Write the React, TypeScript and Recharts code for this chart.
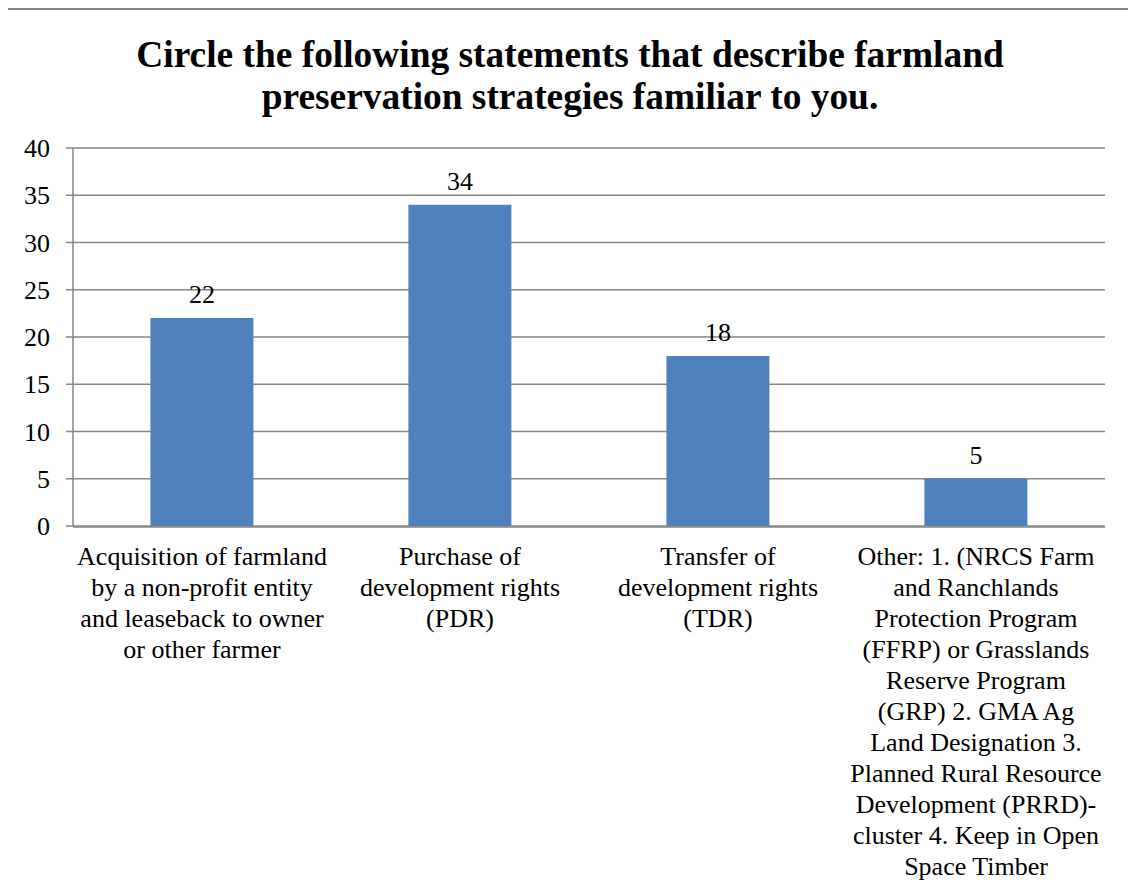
import React from "react";
import { BarChart, Bar, XAxis, YAxis, CartesianGrid, LabelList } from "recharts";

const titleLines = [
  "Circle the following statements that describe farmland",
  "preservation strategies familiar to you.",
];

const categories = [
  "Acquisition of farmland\nby a non-profit entity\nand leaseback to owner\nor other farmer",
  "Purchase of\ndevelopment rights\n(PDR)",
  "Transfer of\ndevelopment rights\n(TDR)",
  "Other: 1. (NRCS Farm\nand Ranchlands\nProtection Program\n(FFRP) or Grasslands\nReserve Program\n(GRP) 2. GMA Ag\nLand Designation 3.\nPlanned Rural Resource\nDevelopment (PRRD)-\ncluster 4. Keep in Open\nSpace Timber",
];

const counts = [22, 34, 18, 5];

const yTicks = [0, 5, 10, 15, 20, 25, 30, 35, 40];
const boundaryTicks = [0, 1, 2, 3, 4];

const data = categories.map((c, i) => ({ name: c, value: counts[i] }));

const FONT = "'Liberation Serif', 'Times New Roman', serif";
const GRAY = "#868686";

const CategoryTick = (props: any) => {
  const { x, y, payload } = props;
  const lines = String(payload.value).split("\n");
  return (
    <g>
      {lines.map((ln: string, i: number) => (
        <text
          key={i}
          x={x}
          y={y + 39 + i * 31}
          textAnchor="middle"
          fontFamily={FONT}
          fontSize={26}
          fill="#000"
        >
          {ln}
        </text>
      ))}
    </g>
  );
};

export default function App() {
  return (
    <div
      style={{
        position: "relative",
        width: 1124,
        height: 872,
        marginTop: 2,
        background: "#fff",
      }}
    >
      <svg
        width={1128}
        height={874}
        style={{ position: "absolute", left: -2, top: -2, overflow: "visible" }}
      >
        <line x1={1} y1={0} x2={1} y2={874} stroke={GRAY} strokeWidth={2} />
        <line x1={1127} y1={0} x2={1127} y2={874} stroke={GRAY} strokeWidth={2} />
        <line x1={0} y1={1} x2={1128} y2={1} stroke={GRAY} strokeWidth={2} />
      </svg>
      <div
        style={{
          position: "absolute",
          left: 0,
          top: 24,
          width: 1124,
          textAlign: "center",
          fontFamily: FONT,
          fontWeight: "bold",
          fontSize: 37.4,
          lineHeight: "42px",
          color: "#000",
        }}
      >
        {titleLines.map((t, i) => (
          <div key={i}>{t}</div>
        ))}
      </div>
      <div style={{ position: "absolute", left: 0, top: 0 }}>
        <BarChart
          width={1124}
          height={872}
          data={data}
          margin={{ top: 138, right: 27, bottom: 354, left: 0 }}
          barCategoryGap="30%"
        >
          <CartesianGrid vertical={false} stroke={GRAY} strokeWidth={1.5} />
          <XAxis
            xAxisId="bounds"
            type="number"
            domain={[0, 4]}
            ticks={boundaryTicks}
            interval={0}
            height={1}
            axisLine={{ stroke: GRAY, strokeWidth: 1.5 }}
            tick={false}
            tickSize={7}
            tickLine={{ stroke: GRAY, strokeWidth: 1.5 }}
          />
          <XAxis
            dataKey="name"
            type="category"
            height={1}
            tickLine={false}
            axisLine={false}
            tickSize={0}
            tickMargin={0}
            interval={0}
            tick={<CategoryTick />}
          />
          <YAxis
            width={65}
            domain={[0, 40]}
            ticks={yTicks}
            interval={0}
            tickSize={7}
            tickMargin={16}
            axisLine={{ stroke: GRAY, strokeWidth: 1.5 }}
            tickLine={{ stroke: GRAY, strokeWidth: 1.5 }}
            tick={{ fontFamily: FONT, fontSize: 26, fill: "#000" }}
          />
          <Bar dataKey="value" fill="#4F81BD" isAnimationActive={false}>
            <LabelList
              dataKey="value"
              position="top"
              offset={15}
              fill="#000"
              fontFamily={FONT}
              fontSize={26}
            />
          </Bar>
        </BarChart>
      </div>
    </div>
  );
}
